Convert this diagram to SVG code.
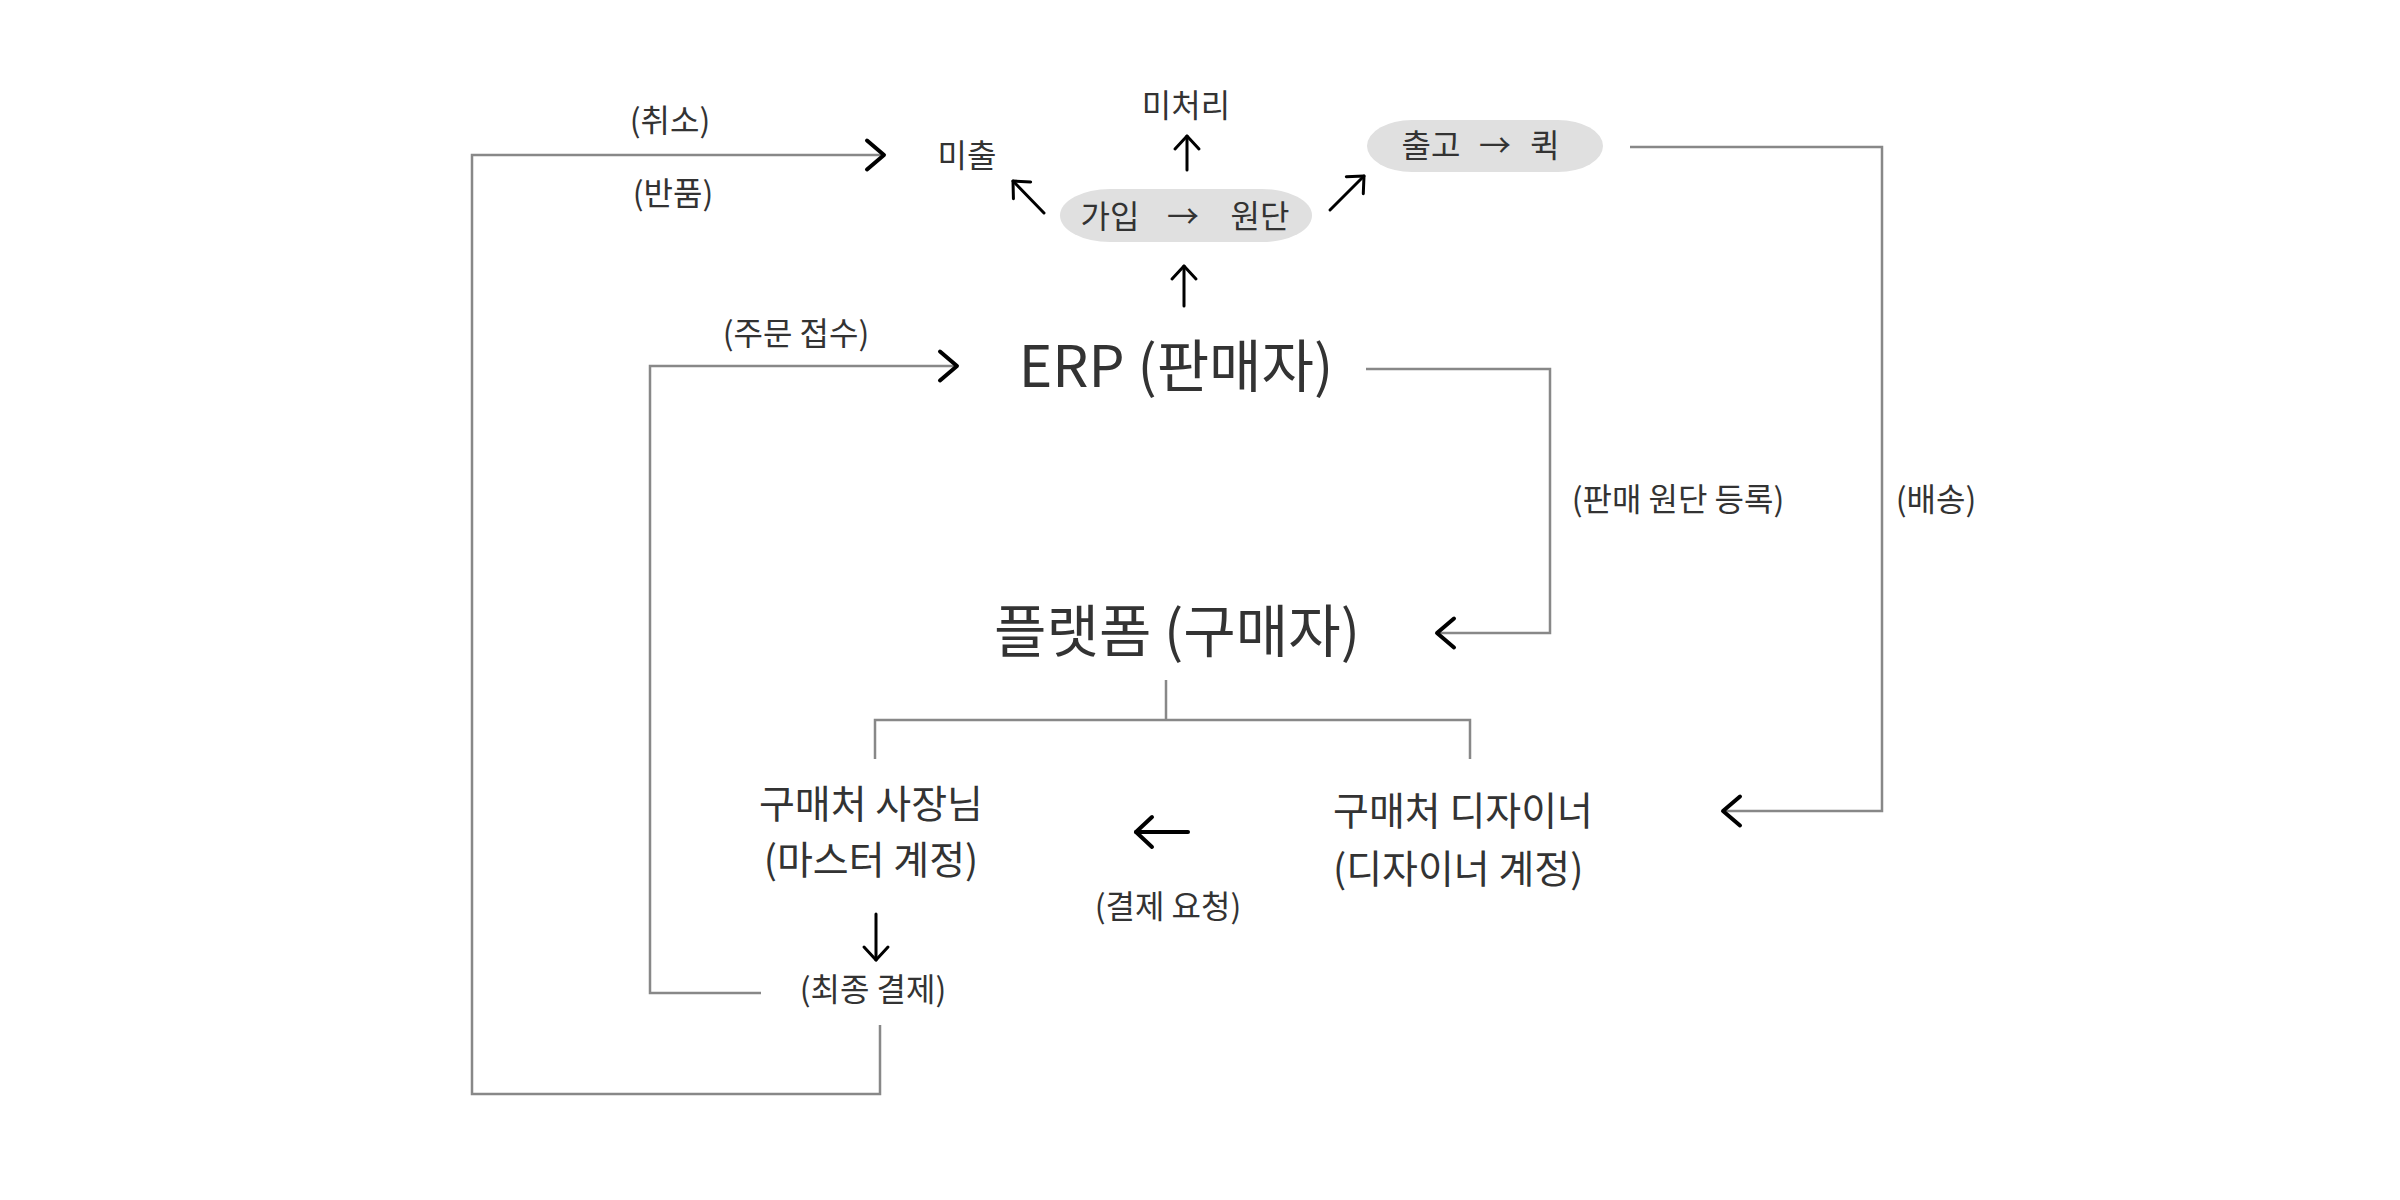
<svg xmlns="http://www.w3.org/2000/svg" width="2400" height="1200" viewBox="0 0 2400 1200">
<style>
text{font-family:"Noto Sans CJK KR","Noto Sans",sans-serif;fill:#333333}
.s{font-size:32px}
.m{font-size:39px}
.l{font-size:57px}
.c{text-anchor:middle}
.conn{fill:none;stroke:#888888;stroke-width:2.5}
.arr{fill:none;stroke:#000000;stroke-width:3;stroke-linecap:round}
.pill{fill:#e0e0e0}
</style>
<defs>
<marker id="chev" markerUnits="userSpaceOnUse" markerWidth="40" markerHeight="40" viewBox="-20 -20 40 40" refX="0" refY="0" orient="auto" overflow="visible">
<path d="M -17 -14.5 L 0 0 L -17 14.5" fill="none" stroke="#000" stroke-width="4" stroke-linecap="round" stroke-linejoin="round"/>
</marker>
<marker id="head" markerUnits="userSpaceOnUse" markerWidth="40" markerHeight="40" viewBox="-20 -20 40 40" refX="0" refY="0" orient="auto" overflow="visible">
<path d="M -13 -12 L 0 0 L -13 12" fill="none" stroke="#000" stroke-width="3" stroke-linecap="round" stroke-linejoin="round"/>
</marker>
<marker id="headB" markerUnits="userSpaceOnUse" markerWidth="40" markerHeight="40" viewBox="-20 -20 40 40" refX="0" refY="0" orient="auto" overflow="visible">
<path d="M -16 -15 L 0 0 L -16 15" fill="none" stroke="#000" stroke-width="4" stroke-linecap="round" stroke-linejoin="round"/>
</marker>
</defs>

<g id="connectors">
<path class="conn" d="M 880 1025 V 1094 H 472 V 155 H 884" marker-end="url(#chev)"/>
<path class="conn" d="M 761 993 H 650 V 366 H 957" marker-end="url(#chev)"/>
<path class="conn" d="M 1366 369 H 1550 V 633 H 1437" marker-end="url(#chev)"/>
<path class="conn" d="M 1630 147 H 1882 V 811 H 1723" marker-end="url(#chev)"/>
<path class="conn" d="M 1166 680 V 720 M 875 759 V 720 H 1470 V 759"/>
<line class="arr" x1="1184" y1="306" x2="1184" y2="266" marker-end="url(#head)"/>
<line class="arr" x1="1187" y1="170" x2="1187" y2="136" marker-end="url(#head)"/>
<line class="arr" x1="1044" y1="213" x2="1013" y2="181" marker-end="url(#head)"/>
<line class="arr" x1="1330" y1="210" x2="1364" y2="176" marker-end="url(#head)"/>
<line class="arr" style="stroke-width:4" x1="1188" y1="832" x2="1136" y2="832" marker-end="url(#headB)"/>
<line class="arr" x1="876" y1="914" x2="876" y2="960" marker-end="url(#head)"/>
</g>

<g id="label-cancel"><text class="s c" x="670" y="132">(취소)</text></g>
<g id="label-return"><text class="s c" x="673" y="205">(반품)</text></g>
<g id="node-unshipped"><text class="s c" x="967" y="167">미출</text></g>
<g id="node-unprocessed"><text class="s c" x="1186" y="117">미처리</text></g>
<g id="node-join-fabric">
<rect class="pill" x="1060" y="189" width="252" height="53" rx="50" ry="26.5"/>
<text class="s c" y="228"><tspan x="1110">가입</tspan><tspan x="1183">→</tspan><tspan x="1260">원단</tspan></text>
</g>
<g id="node-release-quick">
<rect class="pill" x="1367" y="120" width="236" height="52" rx="45" ry="26"/>
<text class="s c" y="157"><tspan x="1431">출고</tspan><tspan x="1495">→</tspan><tspan x="1545">퀵</tspan></text>
</g>
<g id="label-order"><text class="s c" x="796" y="345">(주문 접수)</text></g>
<g id="node-erp"><text class="l c" x="1176" y="387">ERP (판매자)</text></g>
<g id="label-register"><text class="s c" x="1678" y="511">(판매 원단 등록)</text></g>
<g id="label-delivery"><text class="s c" x="1936" y="511">(배송)</text></g>
<g id="node-platform"><text class="l c" x="1177" y="652">플랫폼 (구매자)</text></g>
<g id="node-owner">
<text class="m c" x="871" y="818">구매처 사장님</text>
<text class="m c" x="871" y="874">(마스터 계정)</text>
</g>
<g id="node-designer">
<text class="m" x="1333" y="825">구매처 디자이너</text>
<text class="m" x="1333" y="883">(디자이너 계정)</text>
</g>
<g id="label-payreq"><text class="s c" x="1168" y="918">(결제 요청)</text></g>
<g id="node-final"><text class="s c" x="873" y="1001">(최종 결제)</text></g>
</svg>
